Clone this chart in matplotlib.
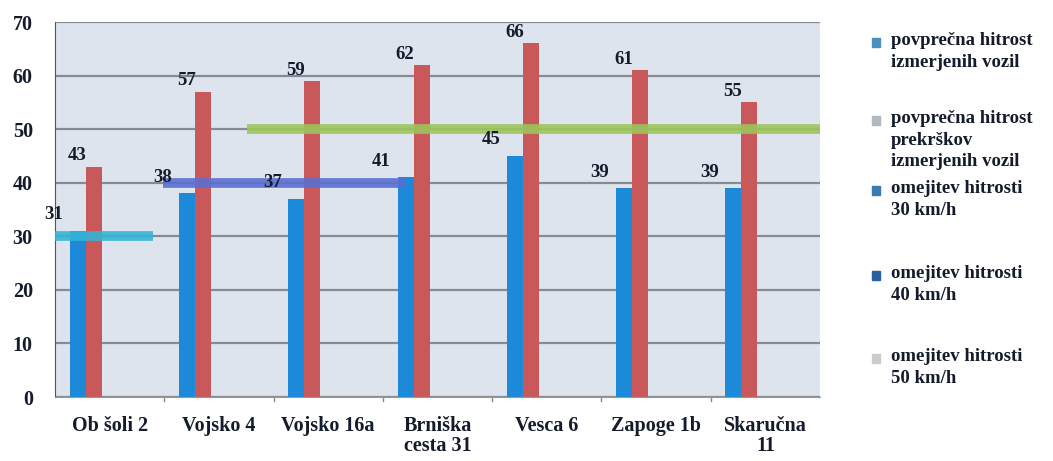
import matplotlib
matplotlib.use("Agg")
import matplotlib.pyplot as plt
from matplotlib.patches import Rectangle

categories = ["Ob šoli 2", "Vojsko 4", "Vojsko 16a", "Brniška\ncesta 31", "Vesca 6", "Zapoge 1b", "Skaručna\n11"]
avg_speed = [31, 38, 37, 41, 45, 39, 39]
avg_violation = [43, 57, 59, 62, 66, 61, 55]
limit_values = [30, 40, 50]
limit_spans = [(-0.5, 0.40), (0.49, 2.70), (1.26, 6.5)]
legend_labels = ["povprečna hitrost\nizmerjenih vozil",
                 "povprečna hitrost\nprekrškov\nizmerjenih vozil",
                 "omejitev hitrosti\n30 km/h",
                 "omejitev hitrosti\n40 km/h",
                 "omejitev hitrosti\n50 km/h"]

c_blue = "#1c8ad8"
c_red = "#c9585b"
c_lines = ["#35b4d6", "#5a6fd2", "#9cc55c"]
legend_marker_colors = ["#4a8fc0", "#b0b8c0", "#3a7cb0", "#2a5fa0", "#c8cccc"]
txt = "#141c2c"
font = ["Liberation Serif", "DejaVu Serif"]

fig = plt.figure(figsize=(10.53, 4.61), dpi=100)
ax = fig.add_axes([55/1053, 1-397/461, (820-55)/1053, (397-22)/461])
ax.set_facecolor("#dde4ed")

n = 5
group = 0.73
w = group / n
x = list(range(len(categories)))
xb = [i - 2*w for i in x]
xr = [i - 1*w for i in x]

ax.set_axisbelow(True)
ax.yaxis.grid(True, color="#858b94", lw=1.6)
ax.bar(xb, avg_speed, width=w, color=c_blue, zorder=2)
ax.bar(xr, avg_violation, width=w, color=c_red, zorder=2)

for v, (a, b), c in zip(limit_values, limit_spans, c_lines):
    ax.hlines(v, a, b, colors=c, lw=7, zorder=3, alpha=0.9)

for xi, v in zip(xb, avg_speed):
    ax.text(xi - 0.22, v + 3, str(v), ha="center", va="center", fontsize=13.5,
            fontweight="bold", family=font, color=txt, zorder=4)
for xi, v in zip(xr, avg_violation):
    ax.text(xi - 0.15, v + 2, str(v), ha="center", va="center", fontsize=13.5,
            fontweight="bold", family=font, color=txt, zorder=4)

ax.set_xlim(-0.5, len(categories) - 0.5)
ax.set_ylim(0, 70)
ax.set_yticks(range(0, 71, 10))
ax.set_xticks(x)
ax.set_xticklabels(categories)
ax.tick_params(axis="x", length=0, pad=14)
ax.tick_params(axis="y", length=0, pad=16)
for lab in ax.get_xticklabels() + ax.get_yticklabels():
    lab.set_family(font)
    lab.set_fontweight("bold")
    lab.set_fontsize(14.5)
    lab.set_color(txt)
    lab.set_linespacing(1.0)
for t in [i + 0.5 for i in x[:-1]]:
    ax.plot([t, t], [0, -0.8], color="#888", lw=1, clip_on=False)
for s in ["top", "right"]:
    ax.spines[s].set_visible(False)
ax.spines["left"].set_color("#555")
ax.spines["bottom"].set_color("#999")

legend_y = [42, 120, 190, 275, 358]
for lab, yy, mc in zip(legend_labels, legend_y, legend_marker_colors):
    fig.patches.append(Rectangle((872/1053, 1-(yy+5)/461), 8/1053, 9/461,
                                 transform=fig.transFigure, color=mc))
    fig.text(891/1053, 1-(yy-10)/461, lab, ha="left", va="top", fontsize=13.5,
             fontweight="bold", family=font, color=txt, linespacing=1.36)

fig.savefig("out.png", dpi=100)
